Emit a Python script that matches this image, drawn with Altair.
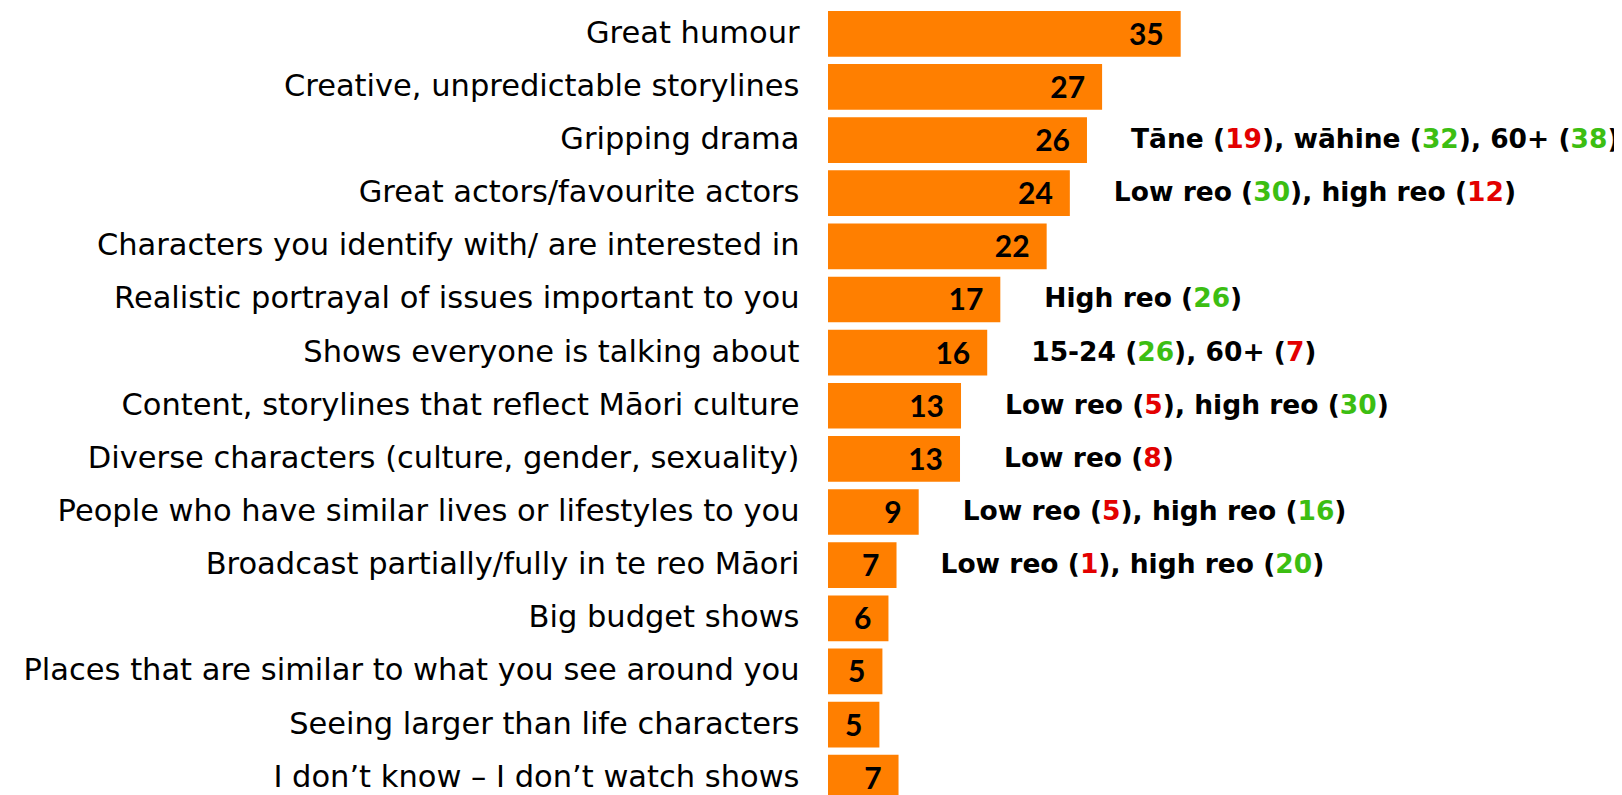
import altair as alt
import pandas as pd

categories = [
    "Great humour",
    "Creative, unpredictable storylines",
    "Gripping drama",
    "Great actors/favourite actors",
    "Characters you identify with/ are interested in",
    "Realistic portrayal of issues important to you",
    "Shows everyone is talking about",
    "Content, storylines that reflect Māori culture",
    "Diverse characters (culture, gender, sexuality)",
    "People who have similar lives or lifestyles to you",
    "Broadcast partially/fully in te reo Māori",
    "Big budget shows",
    "Places that are similar to what you see around you",
    "Seeing larger than life characters",
    "I don’t know – I don’t watch shows",
]
values = [35.0, 27.2, 25.7, 24.0, 21.7, 17.1, 15.8, 13.2, 13.1, 9.0, 6.8, 6.0, 5.4, 5.1, 7.0]
shown = ["35", "27", "26", "24", "22", "17", "16", "13", "13", "9", "7", "6", "5", "5", "7"]

note_rows = [
    "Gripping drama",
    "Great actors/favourite actors",
    "Realistic portrayal of issues important to you",
    "Shows everyone is talking about",
    "Content, storylines that reflect Māori culture",
    "Diverse characters (culture, gender, sexuality)",
    "People who have similar lives or lifestyles to you",
    "Broadcast partially/fully in te reo Māori",
]
note_segments = [
    [("Tāne (", "k"), ("19", "r"), ("), wāhine (", "k"), ("32", "g"), ("), 60+ (", "k"), ("38", "g"), ("),", "k")],
    [("Low reo (", "k"), ("30", "g"), ("), high reo (", "k"), ("12", "r"), (")", "k")],
    [("High reo (", "k"), ("26", "g"), (")", "k")],
    [("15-24 (", "k"), ("26", "g"), ("), 60+ (", "k"), ("7", "r"), (")", "k")],
    [("Low reo (", "k"), ("5", "r"), ("), high reo (", "k"), ("30", "g"), (")", "k")],
    [("Low reo (", "k"), ("8", "r"), (")", "k")],
    [("Low reo (", "k"), ("5", "r"), ("), high reo (", "k"), ("16", "g"), (")", "k")],
    [("Low reo (", "k"), ("1", "r"), ("), high reo (", "k"), ("20", "g"), (")", "k")],
]
palette = {"k": "#000000", "r": "#E30000", "g": "#3CBE12"}

# DejaVu Sans Bold advance widths (font units, 2048 per em) used to place text pieces side by side
UPM = 2048
ADV = {" ": 713, "(": 934, ")": 934, ",": 779, "-": 846, "+": 1716,
       "L": 1305, "T": 1403, "H": 1716, "a": 1382, "ā": 1382, "e": 1389, "g": 1466,
       "h": 1458, "i": 702, "n": 1458, "o": 1407, "r": 1010, "w": 1892}
for d in "0123456789":
    ADV[d] = 1425
NOTE_SIZE = 26.5
NOTE_GAP = 44


def text_width(s):
    return sum(ADV.get(ch, 1400) for ch in s) / UPM * NOTE_SIZE


df = pd.DataFrame({"category": categories, "value": values, "shown": shown})

rows = []
val_of = dict(zip(categories, values))
for cat, segs in zip(note_rows, note_segments):
    cursor = 0.0
    for s, c in segs:
        rows.append({"category": cat, "value": val_of[cat], "text": s,
                     "hex": palette[c], "off": NOTE_GAP + cursor})
        cursor += text_width(s)
ndf = pd.DataFrame(rows)

y_enc = alt.Y(
    "category:N",
    sort=categories,
    scale=alt.Scale(range=[0, 795.5], paddingInner=0.14, paddingOuter=0.056),
    axis=alt.Axis(
        title=None, ticks=False, domain=False, grid=False,
        labelFont="DejaVu Sans", labelFontSize=30.5, labelColor="#000000",
        labelPadding=29, labelLimit=2000,
    ),
)
x_enc = alt.X("value:Q", scale=alt.Scale(domain=[0, 78], nice=False, zero=True), axis=None)

bars = alt.Chart(df).mark_bar(color="#FF7F00").encode(x=x_enc, y=y_enc)

nums = alt.Chart(df).mark_text(
    align="right", baseline="middle", dx=-17, dy=2,
    font="Lato", fontWeight="bold", fontSize=30, color="#000000",
).encode(x=x_enc, y=y_enc, text="shown:N")

notes = alt.Chart(ndf).mark_text(
    align="left", baseline="middle", dx=alt.ExprRef(expr="datum.off"),
    font="DejaVu Sans", fontWeight="bold", fontSize=NOTE_SIZE,
).encode(
    x=x_enc, y=y_enc,
    color=alt.Color("hex:N", scale=None),
    text="text:N",
)

chart = alt.layer(bars, nums, notes).properties(
    width=786, height=787,
    autosize=alt.AutoSizeParams(type="none"),
    padding={"left": 820, "top": 0, "right": 0, "bottom": 0},
    background="white",
).configure_view(stroke=None)

chart.save("out.html", embed_options={"renderer": "svg", "actions": False})
